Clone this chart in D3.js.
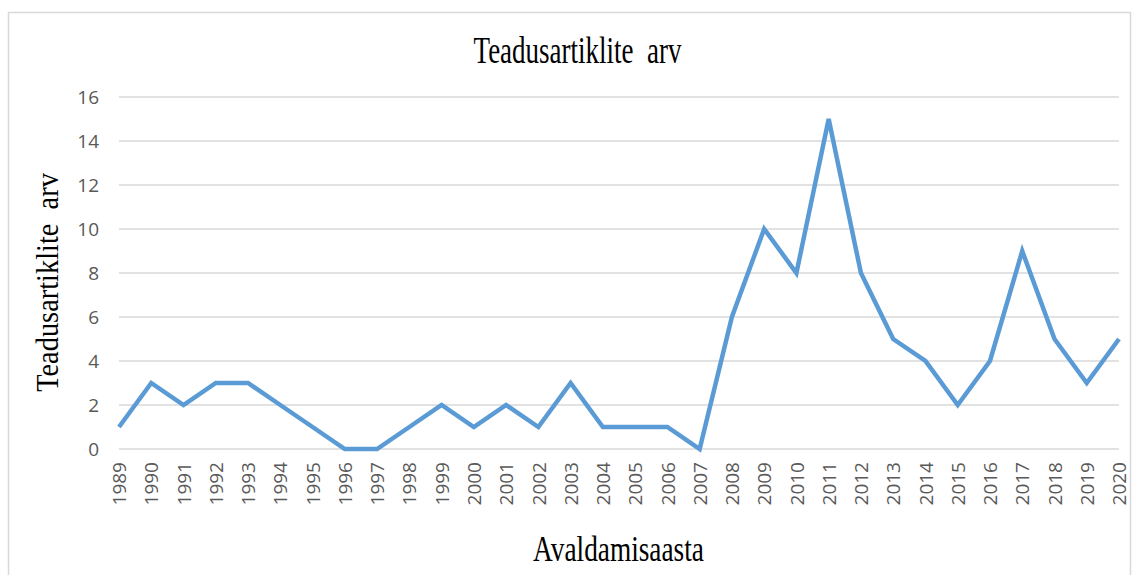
<!DOCTYPE html>
<html><head><meta charset="utf-8">
<script src="https://cdn.jsdelivr.net/npm/d3@7"></script>
<style>body{margin:0;background:#fff;}svg{display:block;}</style>
</head><body>
<svg id="c" width="1132" height="575"></svg>
<script>
const years = [1989,1990,1991,1992,1993,1994,1995,1996,1997,1998,1999,2000,2001,2002,2003,2004,2005,2006,2007,2008,2009,2010,2011,2012,2013,2014,2015,2016,2017,2018,2019,2020];
const counts = [1,3,2,3,3,2,1,0,0,1,2,1,2,1,3,1,1,1,0,6,10,8,15,8,5,4,2,4,9,5,3,5];
const yTicks = [0,2,4,6,8,10,12,14,16];
const title = "Teadusartiklite\u00a0 arv";
const xTitle = "Avaldamisaasta";
const yTitle = "Teadusartiklite\u00a0 arv";

const svg = d3.select("#c");
const m = {left:119, right:1119, top:97, bottom:449};
const x = d3.scalePoint().domain(years).range([m.left, m.right]);
const y = d3.scaleLinear().domain([0,16]).range([m.bottom, m.top]);
const serif = "'Liberation Serif','Times New Roman',serif";
const sans = "'Open Sans','Liberation Sans',sans-serif";

// chart border
svg.append("rect").attr("x",8.5).attr("y",12.5).attr("width",1122).attr("height",600)
  .attr("fill","none").attr("stroke","#d9d9d9").attr("stroke-width",1.5);

// gridlines
svg.append("g").selectAll("line").data(yTicks).join("line")
  .attr("x1",m.left).attr("x2",m.right)
  .attr("y1",d=>y(d)).attr("y2",d=>y(d))
  .attr("stroke","#d9d9d9").attr("stroke-width",1.5);

// y axis labels
const yAxis = d3.axisLeft(y).tickValues(yTicks).tickSize(0).tickPadding(0);
const gy = svg.append("g").attr("transform",`translate(${m.left-20},0)`).call(yAxis);
gy.select(".domain").remove();
gy.selectAll("text").attr("font-family",sans)
  .attr("font-size",19).attr("fill","#595959");

// x axis labels
const xAxis = d3.axisBottom(x).tickSize(0).tickPadding(0).tickFormat(d=>String(d));
const gx = svg.append("g").attr("transform",`translate(0,${m.bottom})`).call(xAxis);
gx.select(".domain").remove();
gx.selectAll("text")
  .attr("font-family",sans)
  .attr("font-size",19).attr("fill","#595959")
  .attr("transform","rotate(-90)")
  .attr("text-anchor","end").attr("x",-13).attr("y",0).attr("dy","0.35em");

// line
const line = d3.line().x((d,i)=>x(years[i])).y(d=>y(d));
svg.append("path").datum(counts).attr("d",line)
  .attr("fill","none").attr("stroke","#5b9bd5").attr("stroke-width",4.5)
  .attr("stroke-linejoin","miter").attr("stroke-linecap","butt");

// titles (text in the reference is vertically stretched)
svg.append("text").attr("transform","translate(577.5,63) scale(1,1.38)").attr("text-anchor","middle")
  .attr("font-family",serif).attr("font-size",27)
  .attr("fill","#000").text(title);
svg.append("text").attr("transform","translate(618.5,561) scale(1,1.28)").attr("text-anchor","middle")
  .attr("font-family",serif).attr("font-size",27.3)
  .attr("fill","#000").text(xTitle);
svg.append("text").attr("transform","translate(58,282.5) rotate(-90) scale(1,1.12)").attr("text-anchor","middle")
  .attr("font-family",serif).attr("font-size",28.4)
  .attr("fill","#000").text(yTitle);
</script>
</body></html>
